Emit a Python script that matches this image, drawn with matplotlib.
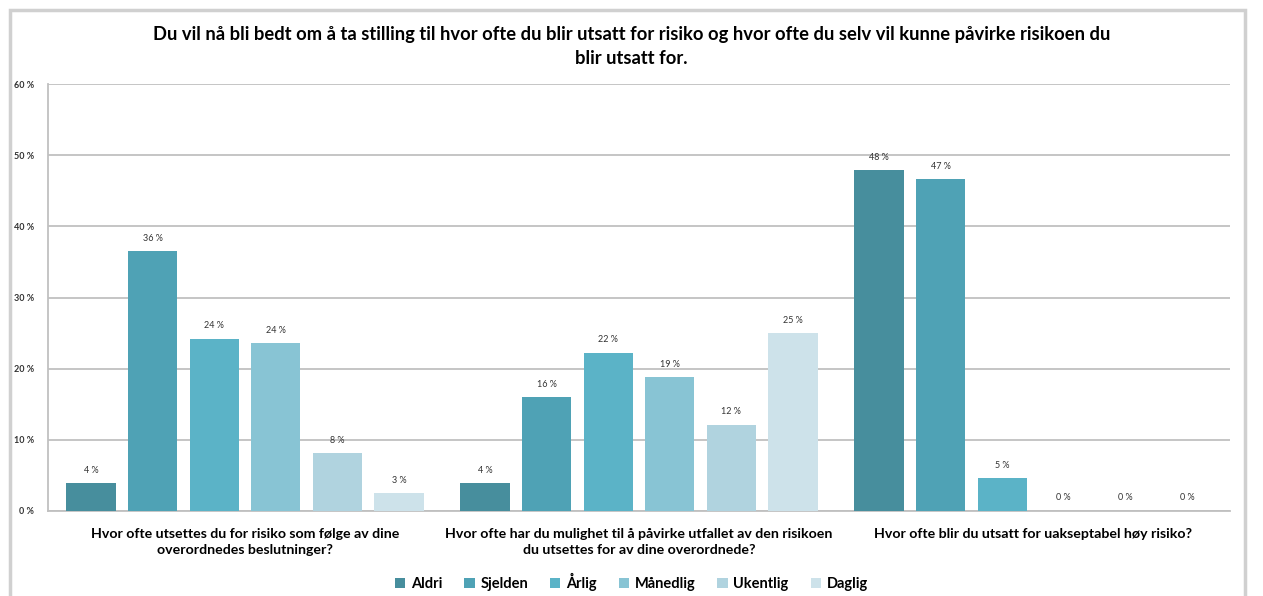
import numpy as np
import matplotlib.pyplot as plt
from matplotlib.patches import Rectangle

# Data
questions = [
    "Hvor ofte utsettes du for risiko som følge av dine\noverordnedes beslutninger?",
    "Hvor ofte har du mulighet til å påvirke utfallet av den risikoen\ndu utsettes for av dine overordnede?",
    "Hvor ofte blir du utsatt for uakseptabel høy risiko?",
]
series = ["Aldri", "Sjelden", "Årlig", "Månedlig", "Ukentlig", "Daglig"]
aldri = [3.9, 3.9, 47.9]
sjelden = [36.5, 16.0, 46.6]
arlig = [24.2, 22.2, 4.6]
manedlig = [23.6, 18.8, 0.0]
ukentlig = [8.1, 12.1, 0.0]
daglig = [2.5, 25.0, 0.0]
labels = [
    ["4 %", "4 %", "48 %"],
    ["36 %", "16 %", "47 %"],
    ["24 %", "22 %", "5 %"],
    ["24 %", "19 %", "0 %"],
    ["8 %", "12 %", "0 %"],
    ["3 %", "25 %", "0 %"],
]
colors = ["#478E9D", "#4FA2B5", "#5BB3C7", "#88C4D4", "#B0D3DF", "#CDE2EA"]
title = ("Du vil nå bli bedt om å ta stilling til hvor ofte du blir utsatt for risiko og hvor ofte du selv vil kunne påvirke risikoen du\n"
         "blir utsatt for.")

values = [aldri, sjelden, arlig, manedlig, ukentlig, daglig]

plt.rcParams['font.family'] = ['Lato', 'DejaVu Sans']

fig = plt.figure(figsize=(12.63, 5.96), dpi=100)
fig.patches.append(Rectangle((10 / 1263, -0.05), 1235 / 1263, 1.05 - 10 / 596,
                             transform=fig.transFigure, fill=False,
                             edgecolor="#D0D0D0", linewidth=2.5))
ax = fig.add_axes([48 / 1263, 85 / 596, 1182 / 1263, 427 / 596])

x = np.arange(len(questions))
step = 1 / 6.4
width = 0.125
for i, (name, vals) in enumerate(zip(series, values)):
    pos = x - 2.5 * step + i * step
    ax.bar(pos, vals, width, color=colors[i], label=name, zorder=3)
    for p, v, lab in zip(pos, vals, labels[i]):
        ax.text(p, v + 1.2, lab, ha="center", va="bottom", fontsize=6.5,
                color="#333333", zorder=4)

ax.set_xlim(-0.5, 2.5)
ax.set_ylim(0, 60)
ax.set_yticks(range(0, 61, 10))
ax.set_yticklabels([f"{t} %" for t in range(0, 61, 10)], fontsize=6.5,
                   fontweight="bold", color="#333333")
ax.set_xticks(x)
ax.set_xticklabels(questions, fontsize=10.2, fontweight="bold", linespacing=1.4)
ax.tick_params(axis="x", length=0, pad=12)
ax.tick_params(axis="y", length=0, pad=10)
ax.grid(axis="y", color="#C0C0C0", linewidth=1.3, zorder=0)
for s in ["top", "right"]:
    ax.spines[s].set_visible(False)
for s in ["left", "bottom"]:
    ax.spines[s].set_color("#C0C0C0")
    ax.spines[s].set_linewidth(1.3)

fig.text(0.5, 0.922, title, ha="center", va="center", fontsize=13.2,
         fontweight="bold", linespacing=1.45)

fig.legend(loc="center", bbox_to_anchor=(0.5, 0.024), ncol=6, frameon=False,
           prop={"weight": "bold", "size": 10.5},
           handlelength=0.7, handleheight=0.7, handletextpad=0.4,
           columnspacing=1.5)

fig.savefig("out.png", dpi=100)
